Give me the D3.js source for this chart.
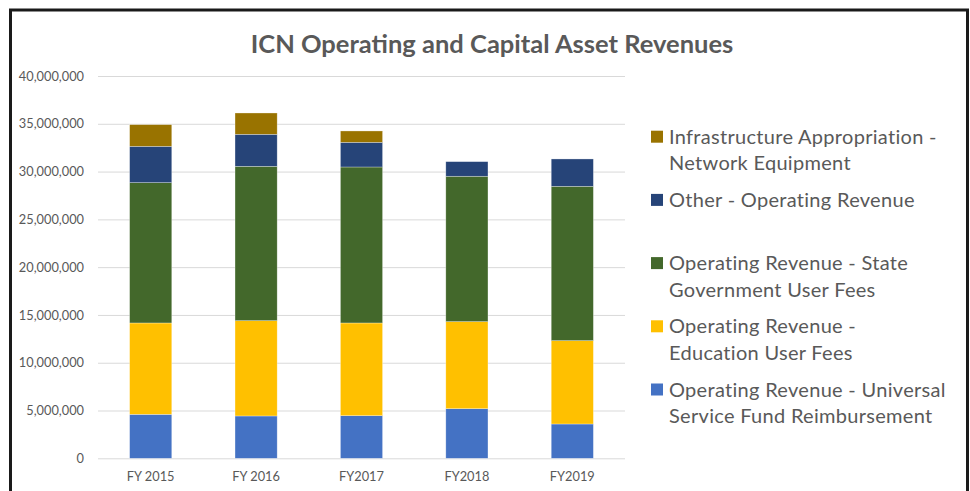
<!DOCTYPE html>
<html>
<head>
<meta charset="utf-8">
<script src="https://cdn.jsdelivr.net/npm/d3@7"></script>
<style>
  html, body { margin: 0; padding: 0; background: #fff; }
  svg { display: block; }
  text { font-family: Lato, "Open Sans", sans-serif; fill: #595959; }
</style>
</head>
<body>
<svg id="chart" width="970" height="491"></svg>
<script>
const categories = ["FY 2015", "FY 2016", "FY2017", "FY2018", "FY2019"];
const universalService = [4600000, 4430000, 4460000, 5190000, 3590000];
const educationFees    = [9560000, 9970000, 9700000, 9110000, 8720000];
const stateGovFees     = [14680000, 16150000, 16320000, 15210000, 16150000];
const otherOperating   = [3800000, 3350000, 2580000, 1530000, 2860000];
const infrastructure   = [2270000, 2230000, 1190000, 0, 0];
const yTicks = [0, 5000000, 10000000, 15000000, 20000000, 25000000, 30000000, 35000000, 40000000];

const seriesNames = [
  "Operating Revenue - Universal Service Fund Reimbursement",
  "Operating Revenue - Education User Fees",
  "Operating Revenue - State Government User Fees",
  "Other - Operating Revenue",
  "Infrastructure Appropriation - Network Equipment"
];
const seriesKeys = ["universal", "education", "state", "other", "infra"];
const seriesColors = ["#4472C4", "#FFC000", "#43682B", "#264478", "#997300"];
// legend labels (top to bottom), split into lines
const legendItems = [
  { key: "infra", lines: ["Infrastructure Appropriation -", "Network Equipment"] },
  { key: "other", lines: ["Other - Operating Revenue"] },
  { key: "state", lines: ["Operating Revenue - State", "Government User Fees"] },
  { key: "education", lines: ["Operating Revenue -", "Education User Fees"] },
  { key: "universal", lines: ["Operating Revenue - Universal", "Service Fund Reimbursement"] }
];

const table = categories.map((c, i) => ({
  category: c,
  universal: universalService[i],
  education: educationFees[i],
  state: stateGovFees[i],
  other: otherOperating[i],
  infra: infrastructure[i]
}));

const svg = d3.select("#chart");
svg.append("rect").attr("width", 970).attr("height", 491).attr("fill", "#fff");

// frame
svg.append("path")
  .attr("d", "M10.5,495 L10.5,10 L967.5,10 L967.5,495")
  .attr("fill", "none").attr("stroke", "#1a1a1a").attr("stroke-width", 3);

const plot = { left: 98, right: 625, top: 76, bottom: 458.3 };

const x = d3.scaleBand().domain(categories)
  .range([plot.left, plot.right]).paddingInner(0.6).paddingOuter(0.3);
const y = d3.scaleLinear().domain([0, 40000000]).range([plot.bottom, plot.top]);

// title
svg.append("text")
  .attr("x", 492).attr("y", 53)
  .attr("text-anchor", "middle")
  .attr("font-size", 25.5).attr("font-weight", 700)
  .text("ICN Operating and Capital Asset Revenues");

// y axis with gridlines
const yAxis = d3.axisLeft(y).tickValues(yTicks)
  .tickSize(-(plot.right - plot.left)).tickPadding(14)
  .tickFormat(d3.format(","));
const yg = svg.append("g").attr("transform", `translate(${plot.left},0)`).call(yAxis);
yg.select(".domain").remove();
yg.selectAll(".tick line").attr("stroke", "#D9D9D9").attr("stroke-width", 1);
yg.selectAll(".tick text").attr("font-size", 12.8).attr("fill", "#595959")
  .attr("font-family", "Lato, sans-serif");

// x axis
const xAxis = d3.axisBottom(x).tickSize(0).tickPadding(14);
const xg = svg.append("g").attr("transform", `translate(0,${plot.bottom})`).call(xAxis);
xg.select(".domain").remove();
xg.selectAll(".tick text").attr("font-size", 12.8).attr("fill", "#595959")
  .attr("font-family", "Lato, sans-serif");

// stacked bars
const stack = d3.stack().keys(seriesKeys);
const stacked = stack(table);
const color = d3.scaleOrdinal().domain(seriesKeys).range(seriesColors);

svg.append("g").selectAll("g").data(stacked).join("g")
  .attr("fill", d => color(d.key))
  .selectAll("rect").data(d => d.filter(p => p[1] - p[0] > 0)).join("rect")
  .attr("x", d => x(d.data.category))
  .attr("width", x.bandwidth())
  .attr("y", d => y(d[1]))
  .attr("height", d => y(d[0]) - y(d[1]))
  .attr("stroke", "#ffffff").attr("stroke-opacity", 0.5).attr("stroke-width", 0.6);

// legend
const legendX = 651, legendTop = 136.7, legendStep = 63.2, lineH = 26.7;
const lg = svg.append("g");
legendItems.forEach((item, i) => {
  const cy = legendTop + i * legendStep;
  lg.append("rect").attr("x", legendX).attr("y", cy - 6).attr("width", 12).attr("height", 12)
    .attr("fill", color(item.key));
  item.lines.forEach((ln, j) => {
    lg.append("text").attr("x", legendX + 18).attr("y", cy + 7 + j * lineH)
      .attr("font-size", 20).attr("letter-spacing", 0.3).text(ln);
  });
});
</script>
</body>
</html>
